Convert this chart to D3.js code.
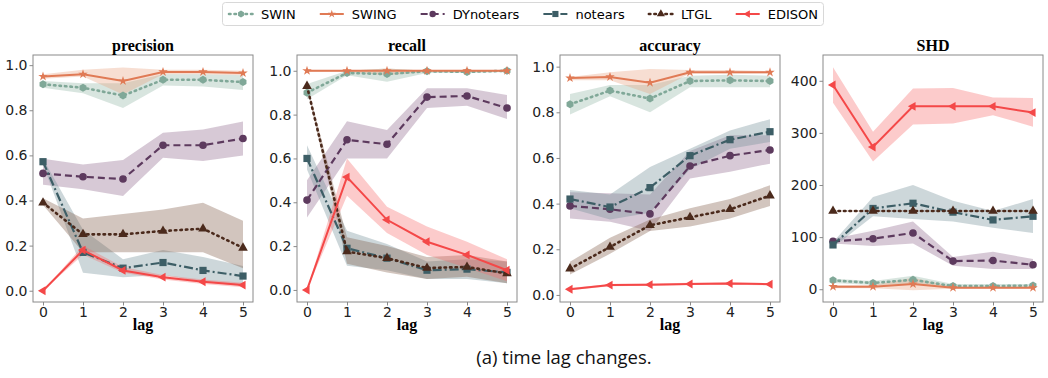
<!DOCTYPE html>
<html><head><meta charset="utf-8">
<script src="https://cdn.jsdelivr.net/npm/d3@7"></script>
<style>body{margin:0;background:#fff}svg{display:block}</style>
</head><body>
<svg id="c" width="1048" height="378"></svg>
<script>
const lags = [0,1,2,3,4,5];
const seriesNames = ["SWIN","SWING","DYnotears","notears","LTGL","EDISON"];
const panelTitles = ["precision","recall","accuracy","SHD"];

const precisionMean = {
  SWIN:[0.915,0.90,0.865,0.935,0.935,0.925], SWING:[0.95,0.96,0.93,0.97,0.97,0.965],
  DYnotears:[0.52,0.505,0.495,0.645,0.645,0.675], notears:[0.572,0.17,0.10,0.125,0.09,0.065],
  LTGL:[0.39,0.25,0.25,0.265,0.275,0.19], EDISON:[0.0,0.18,0.09,0.06,0.04,0.025]};
const precisionLow = {
  SWIN:[0.90,0.875,0.81,0.91,0.905,0.89], SWING:[0.94,0.95,0.87,0.96,0.96,0.955],
  DYnotears:[0.47,0.45,0.42,0.59,0.575,0.60], notears:[0.56,0.08,0.06,0.07,0.04,0.02],
  LTGL:[0.38,0.17,0.17,0.17,0.17,0.10], EDISON:[0.0,0.16,0.08,0.05,0.03,0.015]};
const precisionHigh = {
  SWIN:[0.93,0.92,0.92,0.96,0.96,0.955], SWING:[0.96,0.98,0.99,0.98,0.98,0.975],
  DYnotears:[0.585,0.56,0.58,0.70,0.715,0.75], notears:[0.585,0.27,0.14,0.18,0.15,0.11],
  LTGL:[0.41,0.32,0.34,0.36,0.39,0.31], EDISON:[0.0,0.20,0.105,0.07,0.05,0.035]};

const recallMean = {
  SWIN:[0.90,0.99,0.985,0.998,0.995,1.0], SWING:[1.0,1.0,1.0,1.0,1.0,1.0],
  DYnotears:[0.41,0.685,0.665,0.88,0.885,0.83], notears:[0.60,0.19,0.145,0.09,0.095,0.08],
  LTGL:[0.93,0.175,0.145,0.10,0.105,0.075], EDISON:[0.0,0.515,0.32,0.22,0.16,0.09]};
const recallLow = {
  SWIN:[0.87,0.98,0.95,0.99,0.99,0.995], SWING:[0.995,0.995,0.98,0.995,0.995,0.995],
  DYnotears:[0.33,0.60,0.60,0.83,0.84,0.78], notears:[0.55,0.11,0.09,0.05,0.05,0.03],
  LTGL:[0.92,0.12,0.08,0.05,0.06,0.03], EDISON:[0.0,0.43,0.26,0.16,0.10,0.04]};
const recallHigh = {
  SWIN:[0.94,1.0,1.01,1.0,1.0,1.0], SWING:[1.0,1.0,1.01,1.0,1.0,1.0],
  DYnotears:[0.50,0.77,0.73,0.92,0.92,0.89], notears:[0.66,0.27,0.21,0.13,0.14,0.13],
  LTGL:[0.94,0.24,0.20,0.15,0.16,0.13], EDISON:[0.0,0.60,0.38,0.29,0.22,0.14]};

const accuracyMean = {
  SWIN:[0.835,0.895,0.86,0.937,0.94,0.937], SWING:[0.95,0.955,0.93,0.975,0.975,0.975],
  DYnotears:[0.39,0.375,0.355,0.565,0.61,0.635], notears:[0.42,0.385,0.47,0.61,0.68,0.715],
  LTGL:[0.115,0.21,0.305,0.34,0.375,0.435], EDISON:[0.025,0.043,0.045,0.048,0.05,0.047]};
const accuracyLow = {
  SWIN:[0.79,0.87,0.80,0.91,0.91,0.91], SWING:[0.94,0.94,0.88,0.97,0.97,0.97],
  DYnotears:[0.335,0.32,0.28,0.51,0.54,0.575], notears:[0.38,0.33,0.36,0.55,0.64,0.67],
  LTGL:[0.09,0.18,0.28,0.30,0.335,0.39], EDISON:[0.02,0.038,0.04,0.043,0.045,0.042]};
const accuracyHigh = {
  SWIN:[0.88,0.92,0.92,0.96,0.965,0.96], SWING:[0.955,0.975,0.99,0.985,0.985,0.98],
  DYnotears:[0.45,0.445,0.44,0.63,0.70,0.70], notears:[0.46,0.44,0.56,0.64,0.72,0.77],
  LTGL:[0.145,0.25,0.33,0.38,0.42,0.48], EDISON:[0.03,0.048,0.05,0.053,0.055,0.052]};

const shdMean = {
  SWIN:[17,12,18,6,6,7], SWING:[5,5,10,3,3,3],
  DYnotears:[92,97,108,54,55,47], notears:[85,155,165,148,133,140],
  LTGL:[150,150,150,150,150,150], EDISON:[392,273,351,351,351,339]};
const shdLow = {
  SWIN:[12,8,10,3,3,4], SWING:[2,2,-2,1,1,1],
  DYnotears:[88,83,88,45,39,39], notears:[80,140,135,130,118,108],
  LTGL:[149,149,149,149,149,149], EDISON:[358,245,316,318,334,312]};
const shdHigh = {
  SWIN:[20,16,26,10,10,10], SWING:[8,8,22,5,5,5],
  DYnotears:[97,112,130,62,72,58], notears:[90,177,200,170,150,173],
  LTGL:[151,151,151,151,151,151], EDISON:[426,302,385,386,368,367]};

const yTicksFrac = [0,0.2,0.4,0.6,0.8,1.0];
const yTicksSHD = [0,100,200,300,400];

const panels = [
  {title:panelTitles[0], mean:precisionMean, low:precisionLow, high:precisionHigh, ticks:yTicksFrac, fmt:d3.format(".1f"), dom:[-0.05,1.045], x0:33},
  {title:panelTitles[1], mean:recallMean, low:recallLow, high:recallHigh, ticks:yTicksFrac, fmt:d3.format(".1f"), dom:[-0.055,1.072], x0:297},
  {title:panelTitles[2], mean:accuracyMean, low:accuracyLow, high:accuracyHigh, ticks:yTicksFrac, fmt:d3.format(".1f"), dom:[-0.031,1.051], x0:560},
  {title:panelTitles[3], mean:shdMean, low:shdLow, high:shdHigh, ticks:yTicksSHD, fmt:d3.format("d"), dom:[-24.5,449.5], x0:823}
];

const style = {
  SWIN:{c:"#80a898", band:"#8fb5a3", dash:"1.5,4", w:2.6, m:"hex"},
  SWING:{c:"#e07a55", band:"#e8a07e", dash:null, w:2, m:"star"},
  DYnotears:{c:"#5d3a5e", band:"#8b6489", dash:"7,4", w:2.2, m:"circle"},
  notears:{c:"#3d5e66", band:"#6f8d96", dash:"9,3,2,3", w:2.2, m:"square"},
  LTGL:{c:"#4b2a1c", band:"#7d5a44", dash:"1.5,4", w:2.6, m:"tri"},
  EDISON:{c:"#f44848", band:"#f66a6a", dash:null, w:2, m:"triL"}
};

const svg = d3.select("#c");
const W = 220, plotTop = 55, plotBottom = 302;

function marker(g, type, x, y, color, s) {
  s = s || 1;
  if (type === "circle") g.append("circle").attr("cx",x).attr("cy",y).attr("r",3.8*s).attr("fill",color);
  else if (type === "square") g.append("rect").attr("x",x-3.6*s).attr("y",y-3.6*s).attr("width",7.2*s).attr("height",7.2*s).attr("fill",color);
  else if (type === "hex") g.append("path").attr("transform",`translate(${x},${y})`)
    .attr("d", d3.line()(d3.range(6).map(i=>[4*s*Math.cos(Math.PI/6+i*Math.PI/3),4*s*Math.sin(Math.PI/6+i*Math.PI/3)]))+"Z").attr("fill",color);
  else if (type === "star") g.append("path").attr("transform",`translate(${x},${y})`).attr("d", d3.symbol().type(d3.symbolStar).size(28*s*s)()).attr("fill",color);
  else if (type === "tri") g.append("path").attr("transform",`translate(${x},${y})`).attr("d", d3.symbol().type(d3.symbolTriangle).size(40*s*s)()).attr("fill",color);
  else if (type === "triL") g.append("path").attr("transform",`translate(${x},${y}) rotate(-90)`).attr("d", d3.symbol().type(d3.symbolTriangle).size(34*s*s)()).attr("fill",color);
}

panels.forEach(p => {
  const x = d3.scaleLinear().domain([-0.25,5.25]).range([p.x0, p.x0+W]);
  const y = d3.scaleLinear().domain(p.dom).range([plotBottom, plotTop]);
  const g = svg.append("g");
  seriesNames.forEach(s => {
    const area = d3.area().x((d,i)=>x(lags[i])).y0((d,i)=>y(p.low[s][i])).y1((d,i)=>y(p.high[s][i]));
    g.append("path").attr("d", area(lags)).attr("fill", style[s].band).attr("opacity", 0.35);
  });
  seriesNames.forEach(s => {
    const line = d3.line().x((d,i)=>x(lags[i])).y(d=>y(d));
    const st = style[s];
    g.append("path").attr("d", line(p.mean[s])).attr("fill","none").attr("stroke", st.c)
      .attr("stroke-width", st.w).attr("stroke-dasharray", st.dash).attr("stroke-linecap", st.dash && st.dash.startsWith("1.5") ? "round" : "butt");
    p.mean[s].forEach((v,i)=> marker(g, st.m, x(lags[i]), y(v), st.c));
  });
  g.append("rect").attr("x",p.x0).attr("y",plotTop).attr("width",W).attr("height",plotBottom-plotTop).attr("fill","none").attr("stroke","#8a8a8a").attr("stroke-width",1);
  const xa = g.append("g").attr("transform",`translate(0,${plotBottom})`).call(d3.axisBottom(x).tickValues(lags).tickSize(3.5).tickPadding(2).tickFormat(d3.format("d")));
  const ya = g.append("g").attr("transform",`translate(${p.x0},0)`).call(d3.axisLeft(y).tickValues(p.ticks).tickSize(3.5).tickPadding(2).tickFormat(p.fmt));
  [xa,ya].forEach(a=>{
    a.select(".domain").remove();
    a.selectAll("line").attr("stroke","#8a8a8a");
    a.selectAll("text").attr("fill","#222").style("font-family","DejaVu Sans").style("font-size","14px");
  });
  g.append("text").attr("x", p.x0+W/2).attr("y", 51).attr("text-anchor","middle")
    .style("font-family","Liberation Serif").style("font-weight","bold").style("font-size","16px").text(p.title);
  g.append("text").attr("x", p.x0+W/2).attr("y", 330).attr("text-anchor","middle")
    .style("font-family","Liberation Serif").style("font-weight","bold").style("font-size","16px").text("lag");
});

// legend
const lg = svg.append("g");
lg.append("rect").attr("x",222.5).attr("y",2.5).attr("width",601).attr("height",23).attr("rx",3)
  .attr("fill","#fff").attr("stroke","#d8d8d8");
const handleLen = 24, pad = 8;
const texts = seriesNames.map(s => lg.append("text").style("font-family","DejaVu Sans").style("font-size","13px").attr("y",19).text(s));
const widths = texts.map(t => t.node().getComputedTextLength());
const total = widths.reduce((a,b)=>a+b,0) + seriesNames.length*(handleLen+pad);
const colSp = (601 - 12 - total) / (seriesNames.length-1);
let cx = 229;
seriesNames.forEach((s,i) => {
  const st = style[s];
  lg.append("line").attr("x1",cx).attr("x2",cx+handleLen).attr("y1",14).attr("y2",14).attr("stroke",st.c)
    .attr("stroke-width",st.w).attr("stroke-dasharray",st.dash).attr("stroke-linecap", st.dash && st.dash.startsWith("1.5") ? "round":"butt");
  marker(lg, st.m, cx+handleLen/2, 14, st.c, 0.85);
  texts[i].attr("x", cx+handleLen+pad);
  cx += handleLen + pad + widths[i] + colSp;
});

svg.append("text").attr("x",564).attr("y",364).attr("text-anchor","middle")
  .style("font-family","Open Sans").style("font-size","18.5px").attr("fill","#111").text("(a) time lag changes.");
</script>
</body></html>
